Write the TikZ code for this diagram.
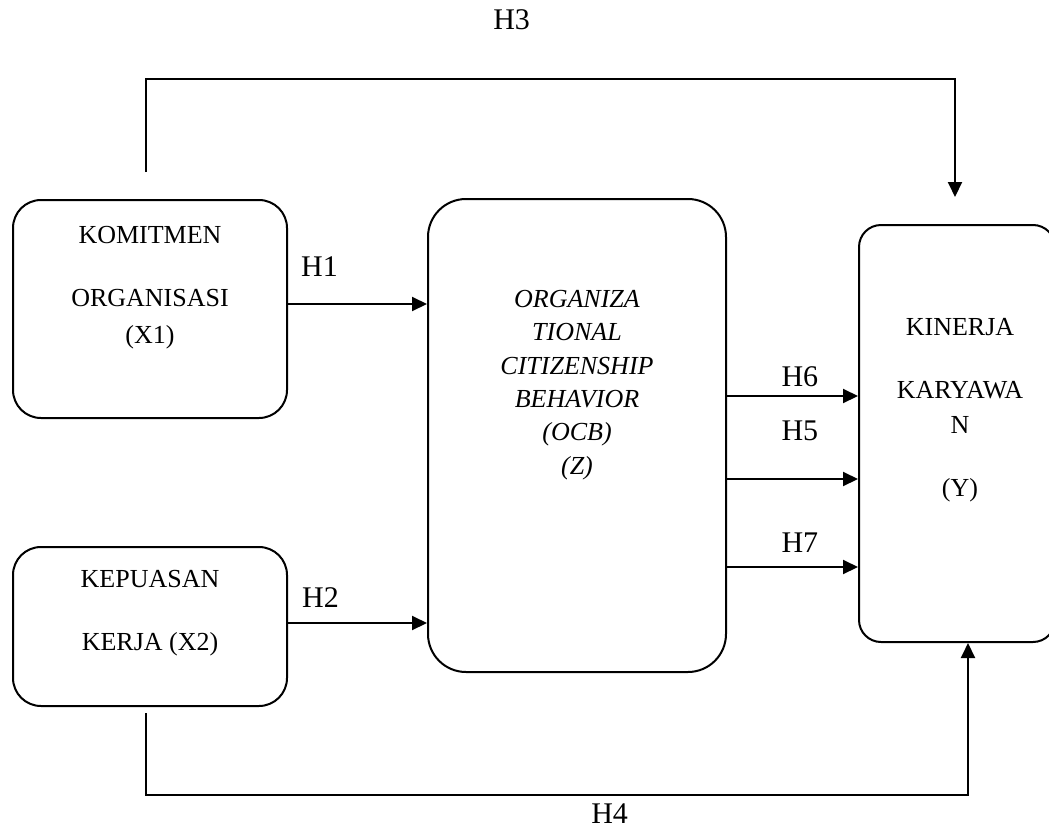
\documentclass[tikz,border=0pt]{standalone}
\usepackage{fontspec}
\setmainfont{Liberation Serif}
\usetikzlibrary{arrows.meta, positioning, calc}

\begin{document}
\begin{tikzpicture}[
            x=0.5pt, y=-0.5pt,
            box/.style={rectangle, draw, line width=1pt, rounded corners=14pt, inner sep=0pt},
            txt/.style={align=center, inner sep=0pt, font=\fontsize{13}{15.6}\selectfont},
            arrow/.style={-{Triangle[length=7.5pt, width=7pt]}, line width=1pt},
            hlbl/.style={inner sep=0pt, font=\fontsize{15}{18}\selectfont}
        ]
            \useasboundingbox (0,0) rectangle (1049,830);

            % Independent variables
            \node[box, minimum width=137pt, minimum height=109pt] (x1) at (150,309) {};
            \node[txt] (x1txt) at (150,287.5) {KOMITMEN\\[16pt] ORGANISASI\\[2.5pt] (X1)};
            \node[box, minimum width=137pt, minimum height=79.5pt] (x2) at (150,626.5) {};
            \node[txt] (x2txt) at (150,613.5) {KEPUASAN\\[16pt] KERJA (X2)};

            % Intervening variable
            \node[box, rounded corners=19pt, minimum width=149pt, minimum height=236.5pt] (ocb) at (577,435.5) {};
            \node[txt, font=\fontsize{13}{16.7}\selectfont\itshape] (ocbtxt) at (577,385) {ORGANIZA\\ TIONAL\\ CITIZENSHIP\\ BEHAVIOR\\ (OCB)\\ (Z)};

            % Dependent variable
            \node[box, rounded corners=11pt, minimum width=98pt, minimum height=208.5pt] (y) at (957,433.5) {};
            \node[txt] (ytxt) at (960,410) {KINERJA\\[16pt] KARYAWA\\[2pt] N\\[15.5pt] (Y)};

            % Connections
            \draw[arrow] ($(x1.east)+(0,-5)$) -- node[hlbl, pos=0.227, above=13.5pt] (h1) {H1} ($(x1.east -| ocb.west)+(0,-5)$);
            \draw[arrow] ($(x2.east)+(0,-3.5)$) -- node[hlbl, pos=0.234, above=7.5pt] (h2) {H2} ($(x2.east -| ocb.west)+(0,-3.5)$);
            \draw[arrow] ($(ocb.east)+(0,-39.5)$) -- node[hlbl, pos=0.556, above=4pt] (h6) {H6} ($(ocb.east -| y.west)+(0,-39.5)$);
            \draw[arrow] ($(ocb.east)+(0,43.5)$) -- node[hlbl, pos=0.556, above=18.5pt] (h5) {H5} ($(ocb.east -| y.west)+(0,43.5)$);
            \draw[arrow] ($(ocb.east)+(0,131.5)$) -- node[hlbl, pos=0.556, above=7pt] (h7) {H7} ($(ocb.east -| y.west)+(0,131.5)$);
            \draw[arrow] ($(x1.north)+(-4,-27)$) -- ++(0,-93) -| node[hlbl, pos=0.226, above=24pt] (h3) {H3} ($(y.north)+(-2,-27)$);
            \draw[arrow] ($(x2.south)+(-4,6)$) -- ++(0,82) -| node[hlbl, pos=0.282, below=4pt] (h4) {H4} ($(y.south)+(11,0)$);
        \end{tikzpicture}
\end{document}
